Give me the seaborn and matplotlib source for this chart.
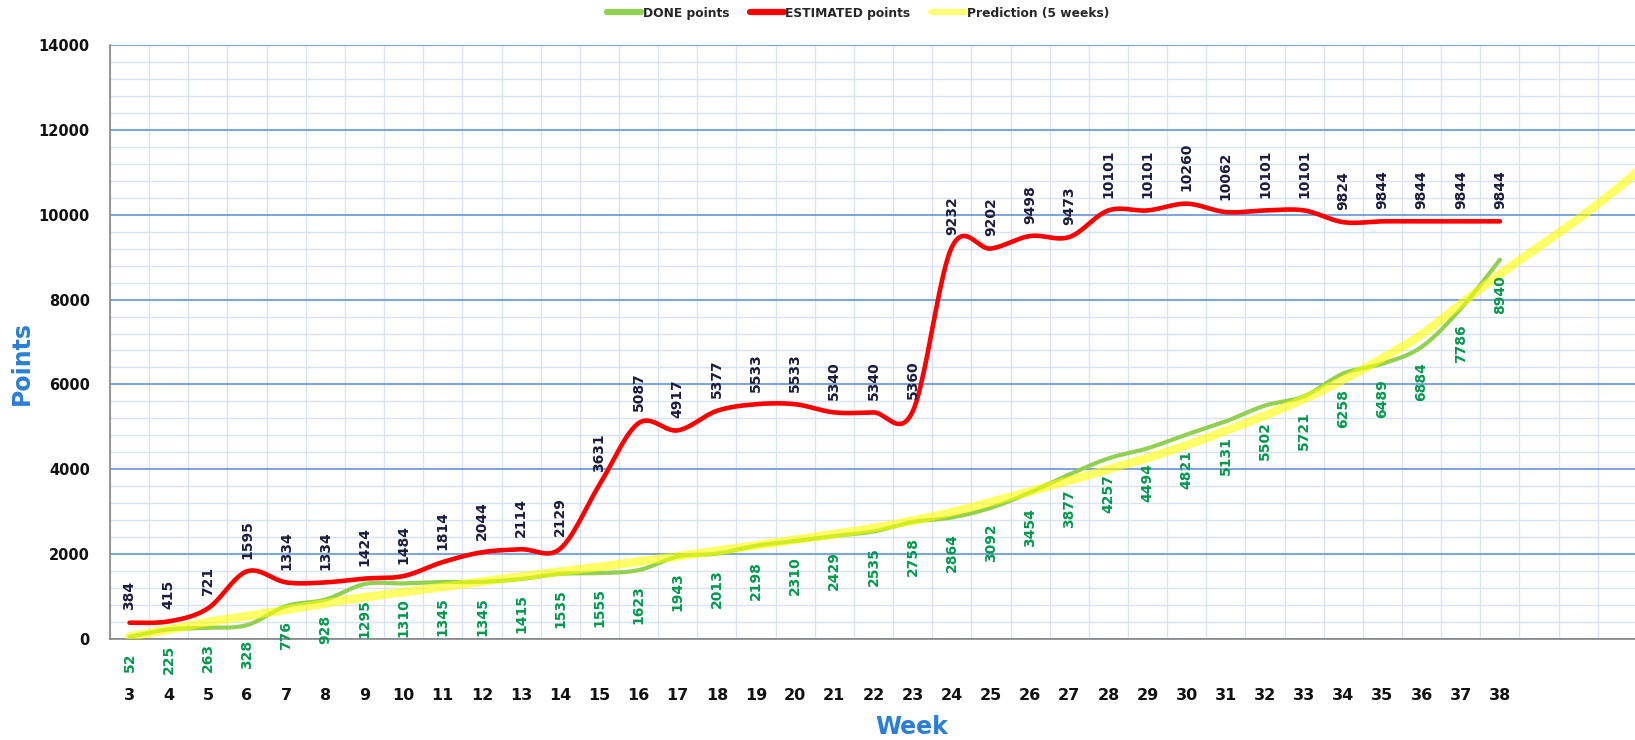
import numpy as np
import matplotlib
matplotlib.use("Agg")
import matplotlib.pyplot as plt
import seaborn as sns
from matplotlib.ticker import FixedLocator, MultipleLocator
from matplotlib.lines import Line2D

# data
weeks = list(range(3, 39))
done_points = [52, 225, 263, 328, 776, 928, 1295, 1310, 1345, 1345,
               1415, 1535, 1555, 1623, 1943, 2013, 2198, 2310, 2429, 2535,
               2758, 2864, 3092, 3454, 3877, 4257, 4494, 4821, 5131, 5502,
               5721, 6258, 6489, 6884, 7786, 8940]
estimated_points = [384, 415, 721, 1595, 1334, 1334, 1424, 1484, 1814, 2044,
                    2114, 2129, 3631, 5087, 4917, 5377, 5533, 5533, 5340, 5340,
                    5360, 9232, 9202, 9498, 9473, 10101, 10101, 10260, 10062, 10101,
                    10101, 9824, 9844, 9844, 9844, 9844]
pred_weeks = list(range(3, 43))
prediction_points = [60, 220, 400, 540, 690, 840, 985, 1105, 1225, 1355,
                     1475, 1590, 1700, 1825, 1955, 2080, 2205, 2340, 2475, 2615,
                     2790, 2990, 3230, 3480, 3730, 4000, 4270, 4570, 4910, 5270,
                     5660, 6110, 6620, 7180, 7900, 8600, 9250, 9900, 10620, 11400]
y_ticks = list(range(0, 14001, 2000))

GREEN = "#92D050"
RED = "#FF0000"
YELLOW = "#FFFF00"
BLUE_TXT = "#2A7FD4"


def smooth(xs, ys, n=24):
    # excel style smoothed line (catmull-rom through every point)
    x = np.asarray(xs, float)
    y = np.asarray(ys, float)
    px = np.concatenate([[x[0]], x, [x[-1]]])
    py = np.concatenate([[y[0]], y, [y[-1]]])
    t = np.linspace(0, 1, n, endpoint=False)
    ox, oy = [], []
    for i in range(len(x) - 1):
        for p, out in ((px, ox), (py, oy)):
            p0, p1, p2, p3 = p[i], p[i + 1], p[i + 2], p[i + 3]
            c1 = p1 + (p2 - p0) / 6
            c2 = p2 - (p3 - p1) / 6
            out.extend((1 - t) ** 3 * p1 + 3 * (1 - t) ** 2 * t * c1
                       + 3 * (1 - t) * t ** 2 * c2 + t ** 3 * p2)
    ox.append(x[-1])
    oy.append(y[-1])
    return np.array(ox), np.array(oy)


sns.set_style("white")
plt.rcParams["font.family"] = ["DejaVu Sans"]

fig = plt.figure(figsize=(16.35, 7.40), dpi=100)
ax = fig.add_axes([110 / 1635, 1 - 639 / 740, 1525 / 1635, 594 / 740])

gx, gy = smooth(weeks, done_points)
rx, ry = smooth(weeks, estimated_points)
yx, yy = smooth(pred_weeks, prediction_points)

sns.lineplot(x=gx, y=gy, color=GREEN, linewidth=3.0, sort=False,
             estimator=None, ax=ax, zorder=3)
sns.lineplot(x=yx, y=yy, color=YELLOW, linewidth=6.2, alpha=0.6, sort=False,
             estimator=None, ax=ax, zorder=4)
sns.lineplot(x=rx, y=ry, color=RED, linewidth=3.3, sort=False,
             estimator=None, ax=ax, zorder=5)

# data labels
for w, v in zip(weeks, estimated_points):
    ax.annotate(str(v), (w, v), xytext=(0, 9), textcoords="offset points",
                rotation=90, ha="center", va="bottom", fontsize=10,
                fontweight="bold", color="#1B1B3A", zorder=6)
for w, v in zip(weeks, done_points):
    ax.annotate(str(v), (w, v), xytext=(0, -11), textcoords="offset points",
                rotation=90, ha="center", va="top", fontsize=10,
                fontweight="bold", color="#00994C", zorder=6)

ax.set_xlim(2.5, 41.45)
ax.set_ylim(0, 14000)

ax.xaxis.set_major_locator(FixedLocator(weeks))
ax.set_xticklabels([str(w) for w in weeks])
ax.xaxis.set_minor_locator(FixedLocator(np.arange(2.5, 42, 1.0)))
ax.yaxis.set_major_locator(FixedLocator(y_ticks))
ax.yaxis.set_minor_locator(MultipleLocator(400))

ax.tick_params(axis="x", which="major", length=0, pad=35, labelsize=11.5)
ax.tick_params(axis="x", which="minor", length=6, direction="out",
               color="#868686", width=1)
ax.tick_params(axis="y", which="major", length=9, direction="inout",
               color="#868686", width=1, pad=10, labelsize=10.5)
ax.tick_params(axis="y", which="minor", length=5, direction="inout",
               color="#868686", width=1)
for lab in ax.get_xticklabels() + ax.get_yticklabels():
    lab.set_fontweight("bold")
    lab.set_color("#111111")

ax.grid(which="minor", axis="both", color="#D9E3F5", linewidth=1.0)
ax.grid(which="major", axis="y", color="#7BA3DD", linewidth=1.4)
ax.grid(which="major", axis="x", visible=False)
ax.set_axisbelow(True)

for s in ("top", "right"):
    ax.spines[s].set_visible(False)
for s in ("left", "bottom"):
    ax.spines[s].set_color("#868686")
    ax.spines[s].set_linewidth(1.2)

ax.set_xlabel("Week", fontsize=17, fontweight="bold", color=BLUE_TXT)
ax.xaxis.set_label_coords((912 - 110) / 1525, (639 - 727) / 594)
ax.xaxis.label.set_va("center")
ax.set_ylabel("Points", fontsize=17, fontweight="bold", color=BLUE_TXT)
ax.yaxis.set_label_coords((22 - 110) / 1525, (639 - 363) / 594)
ax.yaxis.label.set_va("center")

handles = [Line2D([], [], color=GREEN, linewidth=4.5),
           Line2D([], [], color=RED, linewidth=4.5),
           Line2D([], [], color=YELLOW, alpha=0.55, linewidth=4.5)]
fig.legend(handles, ["DONE points", "ESTIMATED points", "Prediction (5 weeks)"],
           loc="center", bbox_to_anchor=(858 / 1635, 1 - 13 / 740), ncol=3,
           frameon=False, handlelength=2.8, handletextpad=0.1,
           columnspacing=1.7, prop={"size": 8.8, "weight": "bold"})

fig.savefig("out.png", dpi=100)
